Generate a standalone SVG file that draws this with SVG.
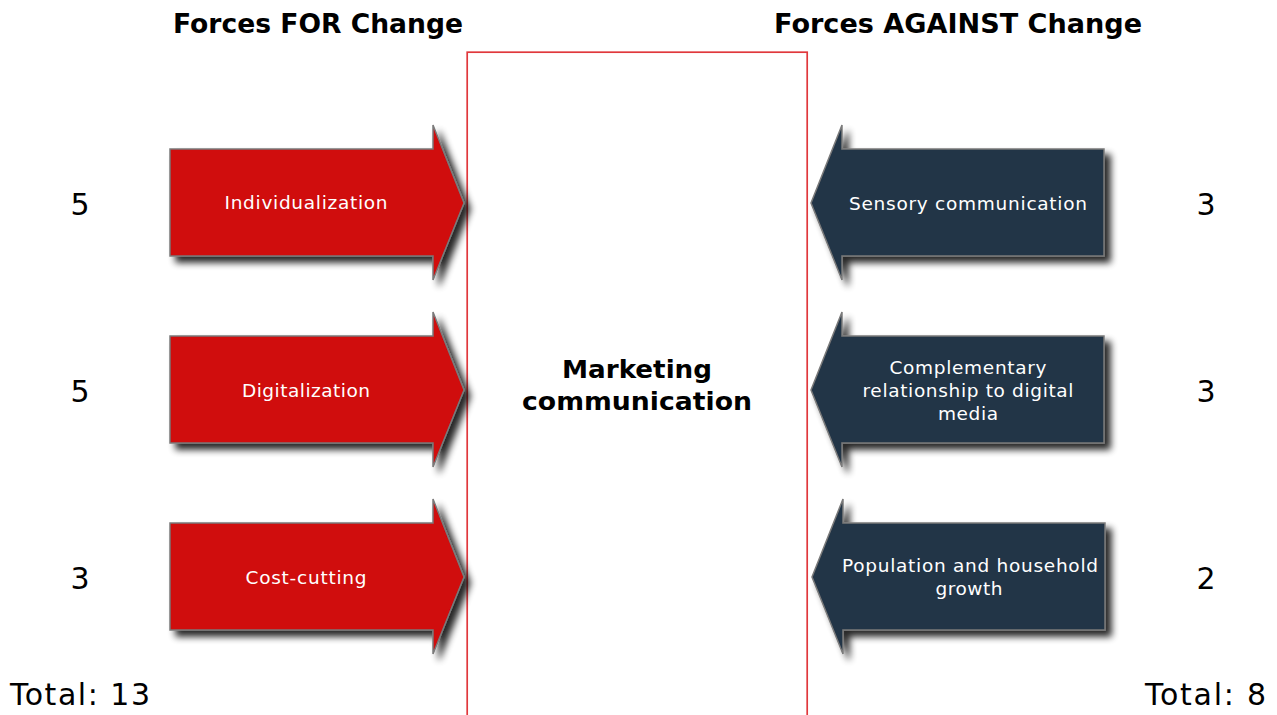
<svg xmlns="http://www.w3.org/2000/svg" width="1277" height="715" viewBox="0 0 1277 715">
<style>
text{font-family:"DejaVu Sans","Verdana",sans-serif}
.title{font-size:26px;font-weight:bold;fill:#000;text-anchor:middle}
.num{font-size:30px;fill:#000}
.lbl{font-size:18.5px;fill:#fff;text-anchor:middle}
.center{font-size:25px;font-weight:bold;text-anchor:middle;fill:#000}
.red{fill:#d0070a;stroke:#7a7a7a;stroke-width:1.5}
.dark{fill:#233446;stroke:#7a7a7a;stroke-width:1.5}
</style>
<defs>
<filter id="sh" x="-10%" y="-10%" width="130%" height="140%">
<feGaussianBlur in="SourceAlpha" stdDeviation="3.5"/>
<feOffset dx="6" dy="6" result="b"/>
<feComponentTransfer><feFuncA type="linear" slope="0.85"/></feComponentTransfer>
<feMerge><feMergeNode/><feMergeNode in="SourceGraphic"/></feMerge>
</filter>
<path id="ra" d="M0,0 H263 V-24 L294,54 L263,131 V107 H0 Z"/>
<path id="da" d="M0,54 L31,-24 V0 H293 V107 H31 V131 Z"/>
</defs>
<rect width="1277" height="715" fill="#fff"/>
<text class="title" x="318" y="33" textLength="290" lengthAdjust="spacingAndGlyphs">Forces FOR Change</text>
<text class="title" x="958" y="33" textLength="368" lengthAdjust="spacingAndGlyphs">Forces AGAINST Change</text>
<g id="center-box">
<rect x="467.2" y="52.2" width="340" height="680" fill="#fff" stroke="#e0383c" stroke-width="1.7"/>
<text class="center" x="637" y="378" textLength="150" lengthAdjust="spacingAndGlyphs">Marketing</text>
<text class="center" x="637" y="410" textLength="230" lengthAdjust="spacingAndGlyphs">communication</text>
</g>
<g id="for1">
<use href="#ra" class="red" x="170" y="149" filter="url(#sh)"/>
<text class="lbl" x="306" y="209" textLength="163">Individualization</text>
<text class="num" x="80" y="215" text-anchor="middle">5</text>
</g>
<g id="for2">
<use href="#ra" class="red" x="170" y="336" filter="url(#sh)"/>
<text class="lbl" x="306" y="397" textLength="128">Digitalization</text>
<text class="num" x="80" y="402" text-anchor="middle">5</text>
</g>
<g id="for3">
<use href="#ra" class="red" x="170" y="523" filter="url(#sh)"/>
<text class="lbl" x="306" y="584" textLength="121">Cost-cutting</text>
<text class="num" x="80" y="589" text-anchor="middle">3</text>
</g>
<g id="against1">
<use href="#da" class="dark" x="811" y="149" filter="url(#sh)"/>
<text class="lbl" x="968" y="210" textLength="238">Sensory communication</text>
<text class="num" x="1206" y="215" text-anchor="middle">3</text>
</g>
<g id="against2">
<use href="#da" class="dark" x="811" y="336" filter="url(#sh)"/>
<text class="lbl" x="968" y="374" textLength="157">Complementary</text>
<text class="lbl" x="968" y="397" textLength="211">relationship to digital</text>
<text class="lbl" x="968" y="420" textLength="60">media</text>
<text class="num" x="1206" y="402" text-anchor="middle">3</text>
</g>
<g id="against3">
<use href="#da" class="dark" x="812" y="523" filter="url(#sh)"/>
<text class="lbl" x="970" y="572" textLength="256">Population and household</text>
<text class="lbl" x="969" y="595" textLength="67">growth</text>
<text class="num" x="1206" y="589" text-anchor="middle">2</text>
</g>
<g id="totals">
<text class="num" x="10" y="705" textLength="140">Total: 13</text>
<text class="num" x="1266" y="705" text-anchor="end" textLength="121">Total: 8</text>
</g>
</svg>
